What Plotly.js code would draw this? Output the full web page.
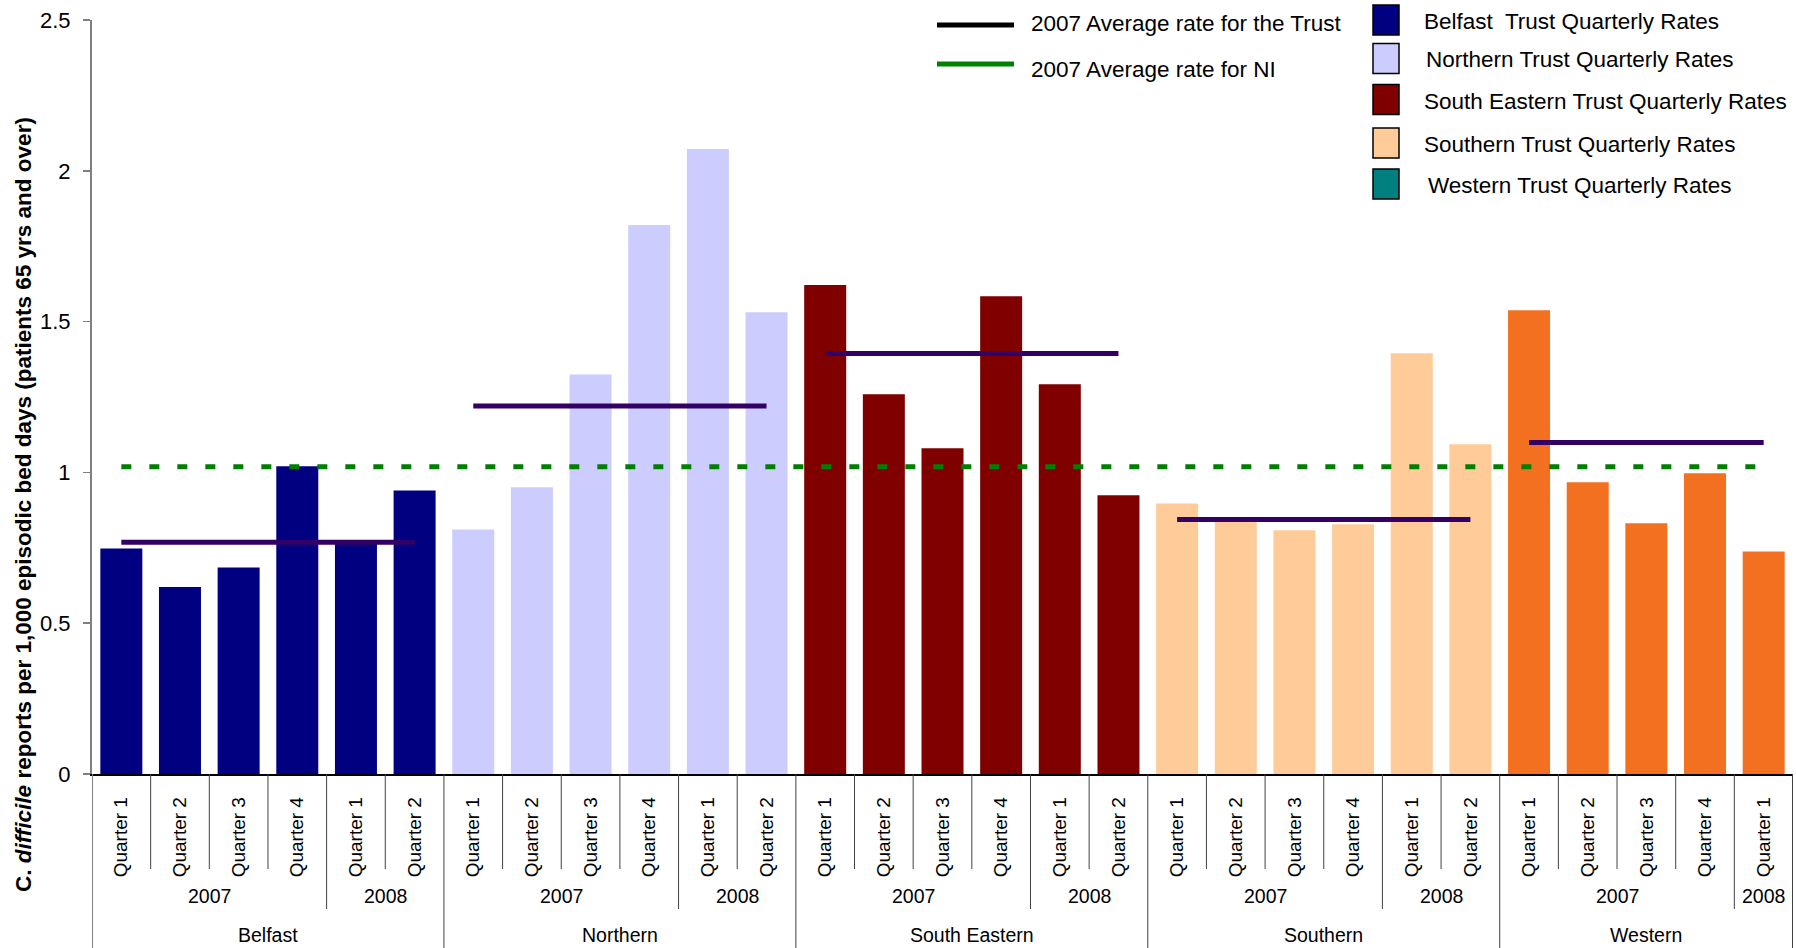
<!DOCTYPE html>
<html>
<head>
<meta charset="utf-8">
<script src="https://cdn.plot.ly/plotly-3.0.1.min.js"></script>
<style>
  html, body { margin: 0; padding: 0; background: #ffffff; }
  #chart { width: 1796px; height: 948px; }
</style>
</head>
<body>
<div id="chart"></div>
<script>
// ---------------- DATA ----------------
const trusts = ["Belfast", "Northern", "South Eastern", "Southern", "Western"];
const years = ["2007", "2008"];
const quarterLabels = ["Quarter 1", "Quarter 2", "Quarter 3", "Quarter 4"];
const quartersIn2007 = 4;

const belfastRates      = [0.748, 0.620, 0.685, 1.020, 0.765, 0.940];
const northernRates     = [0.811, 0.951, 1.325, 1.820, 2.072, 1.531];
const southEasternRates = [1.621, 1.259, 1.080, 1.584, 1.292, 0.924];
const southernRates     = [0.897, 0.840, 0.808, 0.828, 1.395, 1.093];
const westernRates      = [1.538, 0.967, 0.831, 0.997, 0.738];

const trustAverage2007 = [0.768, 1.220, 1.394, 0.844, 1.099];
const niAverage2007 = 1.019;

const legendLineLabels = ["2007 Average rate for the Trust", "2007 Average rate for NI"];
const legendBarLabels = [
  "Belfast  Trust Quarterly Rates",
  "Northern Trust Quarterly Rates",
  "South Eastern Trust Quarterly Rates",
  "Southern Trust Quarterly Rates",
  "Western Trust Quarterly Rates"
];
const yTitle = "<b>C. <i>difficile</i> reports per 1,000 episodic bed days (patients 65 yrs and over)</b>";

// ---------------- STYLE ----------------
const barColors    = ["#000080", "#CCCCFF", "#800000", "#FFCC99", "#F37021"];
const legendColors = ["#000080", "#CCCCFF", "#800000", "#FFCC99", "#008080"];
const trustLineColor = "#330066";
const niLineColor = "#008000";
const FONT = "Liberation Sans, Arial, sans-serif";

const W = 1796, H = 948;
const M = { l: 92, r: 3, t: 20, b: 174 };
const plotW = W - M.l - M.r, plotH = H - M.t - M.b;
const paperX = px => (px - M.l) / plotW;
const paperY = py => (H - M.b - py) / plotH;

// ---------------- BUILD CATEGORIES ----------------
const allRates = [belfastRates, northernRates, southEasternRates, southernRates, westernRates];
const cats = [];
let idx = 0;
allRates.forEach((rates, ti) => {
  rates.forEach((r, k) => {
    const inFirst = k < quartersIn2007;
    cats.push({
      x: idx,
      label: quarterLabels[inFirst ? k : k - quartersIn2007],
      year: years[inFirst ? 0 : 1],
      trust: ti
    });
    idx++;
  });
});
const nCats = cats.length;

const traces = [];
let start = 0;
allRates.forEach((rates, ti) => {
  const xs = rates.map((_, k) => start + k);
  traces.push({
    type: "bar", x: xs, y: rates, name: trusts[ti],
    marker: { color: barColors[ti], line: { width: 0 } },
    showlegend: false, hoverinfo: "x+y"
  });
  start += rates.length;
});

// NI average dashed line
traces.push({
  type: "scatter", mode: "lines",
  x: [cats[0].x, cats[nCats - 1].x], y: [niAverage2007, niAverage2007],
  line: { color: niLineColor, width: 5, dash: "10px,18px" },
  showlegend: false, hoverinfo: "y"
});
// Trust average lines
start = 0;
allRates.forEach((rates, ti) => {
  const x0 = start, x1 = start + rates.length - 1;
  traces.push({
    type: "scatter", mode: "lines",
    x: [x0, x1], y: [trustAverage2007[ti], trustAverage2007[ti]],
    line: { color: trustLineColor, width: 5 },
    showlegend: false, hoverinfo: "y"
  });
  start += rates.length;
});

// ---------------- SEPARATORS & GROUP LABELS ----------------
const shapes = [];
const annotations = [];
const quarterSepY = paperY(869), yearSepY = paperY(909), trustSepY = paperY(H);
const sepColor = "#404040";

for (let b = -1; b < nCats; b++) {
  const left = cats[b], right = cats[b + 1];
  let y1;
  let color = sepColor, width = 1;
  if (!left || !right || left.trust !== right.trust) { y1 = trustSepY; }
  else if (left.year !== right.year) { y1 = yearSepY; }
  else { y1 = quarterSepY; }
  if (!left) { color = "#808080"; width = 2; }
  if (!right) { width = 2; }
  shapes.push({
    type: "line", xref: "x", yref: "paper",
    x0: b + 0.5, x1: b + 0.5, y0: 0, y1: y1,
    line: { color: color, width: width }
  });
}

// year labels and trust labels
trusts.forEach((t, ti) => {
  const tc = cats.filter(c => c.trust === ti);
  const tMid = (tc[0].x + tc[tc.length - 1].x) / 2;
  annotations.push({
    xref: "x", yref: "paper", x: tMid, y: paperY(935),
    text: t, showarrow: false, xanchor: "center", yanchor: "middle",
    font: { family: FONT, size: 19.5, color: "#000" }
  });
  years.forEach(yr => {
    const yc = tc.filter(c => c.year === yr);
    if (!yc.length) return;
    const yMid = (yc[0].x + yc[yc.length - 1].x) / 2;
    annotations.push({
      xref: "x", yref: "paper", x: yMid, y: paperY(896),
      text: yr, showarrow: false, xanchor: "center", yanchor: "middle",
      font: { family: FONT, size: 19.5, color: "#000" }
    });
  });
});

// Y axis title
annotations.push({
  xref: "paper", yref: "paper", x: paperX(24), y: paperY(505),
  text: yTitle, textangle: -90, showarrow: false,
  xanchor: "center", yanchor: "middle",
  font: { family: FONT, size: 22.5, color: "#000" }
});

// ---------------- MANUAL LEGEND ----------------
const legLineY = [25, 64];
const legLineColors = ["#000000", niLineColor];
legendLineLabels.forEach((lab, i) => {
  shapes.push({
    type: "line", xref: "paper", yref: "paper",
    x0: paperX(937), x1: paperX(1014), y0: paperY(legLineY[i]), y1: paperY(legLineY[i]),
    line: { color: legLineColors[i], width: 5 }
  });
  annotations.push({
    xref: "paper", yref: "paper", x: paperX(1029), y: paperY(legLineY[i] + (i === 0 ? -2 : 5)),
    text: lab, showarrow: false, xanchor: "left", yanchor: "middle",
    font: { family: FONT, size: 22.5, color: "#000" }
  });
});
const legBarY = [20, 58.5, 99.5, 143, 184];
const legTextX = [1422, 1424, 1422, 1422, 1426];
legendBarLabels.forEach((lab, i) => {
  shapes.push({
    type: "rect", xref: "paper", yref: "paper",
    x0: paperX(1373), x1: paperX(1399), y0: paperY(legBarY[i] - 15), y1: paperY(legBarY[i] + 15),
    fillcolor: legendColors[i], line: { color: "#000000", width: 1.5 }
  });
  annotations.push({
    xref: "paper", yref: "paper", x: paperX(legTextX[i]), y: paperY(legBarY[i] + 1.5),
    text: lab, showarrow: false, xanchor: "left", yanchor: "middle",
    font: { family: FONT, size: 22.5, color: "#000" }
  });
});

// ---------------- LAYOUT ----------------
const layout = {
  width: W, height: H,
  margin: M,
  paper_bgcolor: "#ffffff", plot_bgcolor: "#ffffff",
  font: { family: FONT, color: "#000" },
  barmode: "overlay", bargap: 0.284,
  showlegend: false,
  xaxis: {
    type: "linear", range: [-0.5, nCats - 0.5],
    tickmode: "array", tickvals: cats.map(c => c.x), ticktext: cats.map(c => c.label),
    tickangle: -90, ticks: "", ticklabelstandoff: 14,
    tickfont: { family: FONT, size: 19, color: "#000" },
    showgrid: false, zeroline: false,
    showline: true, linecolor: "#000000", linewidth: 1.5,
    automargin: false, fixedrange: true
  },
  yaxis: {
    range: [0, 2.5], dtick: 0.5, tick0: 0,
    ticks: "outside", ticklen: 7, tickcolor: "#808080", tickwidth: 1.5,
    ticklabelstandoff: 8,
    tickfont: { family: FONT, size: 22, color: "#000" },
    showgrid: false, zeroline: false,
    showline: true, linecolor: "#808080", linewidth: 2,
    automargin: false, fixedrange: true
  },
  shapes: shapes,
  annotations: annotations
};

Plotly.newPlot("chart", traces, layout, { displayModeBar: false, staticPlot: true });
</script>
</body>
</html>
